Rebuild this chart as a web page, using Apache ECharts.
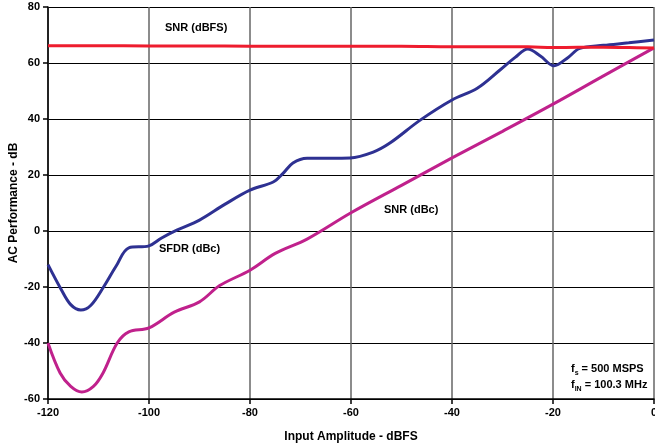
<!DOCTYPE html>
<html>
<head>
<meta charset="utf-8">
<script src="https://cdn.jsdelivr.net/npm/echarts@6/dist/echarts.min.js"></script>
<style>
  html, body { margin: 0; padding: 0; background: #fff; }
  #chart { width: 655px; height: 444px; }
</style>
</head>
<body>
<div id="chart"></div>
<script>
// Input amplitude (dBFS) sample points and measured AC performance (dB)
const snrDbfsX = [-120, -110, -100, -90, -80, -70, -60, -50, -40, -30, -25, -20, -15, -10, -5, 0];
const snrDbfsY = [66.2, 66.2, 66.1, 66.1, 66.0, 66.0, 66.0, 66.0, 65.8, 65.8, 65.8, 65.5, 65.6, 65.6, 65.5, 65.4];

const sfdrX = [-120, -117.5, -115.5, -113.5, -111.5, -109, -106.5, -104, -100, -97.5, -94.5, -90, -85, -80, -75.4, -73.5, -71.5, -68.7, -64, -60.2, -55.6, -52.3, -46.3, -40, -35, -30.5, -27.5, -25, -22.5, -19.8, -17, -14.7, -10, -5, 0];
const sfdrY = [-12, -20.5, -26.3, -28.2, -26.5, -20, -12.5, -6, -5.3, -2.5, 0.3, 3.9, 9.5, 14.6, 17.5, 20.5, 24.3, 26, 26, 26.1, 28.2, 31.4, 39.6, 46.8, 51, 57.5, 62, 65, 62.5, 59, 62, 65.2, 66.3, 67.2, 68.2];

const snrDbcX = [-120, -117.6, -115.5, -113.3, -111, -109.1, -106.3, -104, -100, -95, -90, -86, -80, -75, -68.7, -60, -50, -40, -30, -20, -10, 0];
const snrDbcY = [-40, -50.7, -55.5, -57.5, -55.5, -50.7, -40, -36, -34.6, -29, -25.3, -19.5, -14, -8, -2.9, 6.5, 16.3, 26.1, 35.6, 45.3, 55.4, 65.4];

const xTicks = { min: -120, max: 0, interval: 20 };
const yTicks = { min: -60, max: 80, interval: 20 };

const pairs = (xs, ys) => xs.map((x, i) => [x, ys[i]]);

const font = 'Liberation Sans, Arial, sans-serif';
const chart = echarts.init(document.getElementById('chart'), null, { renderer: 'canvas' });

chart.setOption({
  animation: false,
  backgroundColor: '#ffffff',
  grid: { left: 48, top: 7, width: 606, height: 392, containLabel: false, outerBoundsMode: 'none' },
  xAxis: {
    type: 'value',
    min: xTicks.min, max: xTicks.max, interval: xTicks.interval,
    axisLine: { onZero: false, lineStyle: { color: '#000', width: 1.5 } },
    axisTick: { show: true, length: 5, lineStyle: { color: '#000', width: 1.5 } },
    axisLabel: { fontFamily: font, fontWeight: 'bold', fontSize: 11, color: '#000', margin: 8, hideOverlap: false },
    splitLine: { show: true, lineStyle: { color: '#666', width: 1.5 } }
  },
  yAxis: {
    type: 'value',
    min: yTicks.min, max: yTicks.max, interval: yTicks.interval,
    axisLine: { onZero: false, lineStyle: { color: '#000', width: 1.5 } },
    axisTick: { show: true, length: 5, lineStyle: { color: '#000', width: 1.5 } },
    axisLabel: { fontFamily: font, fontWeight: 'bold', fontSize: 11, color: '#000', margin: 8, hideOverlap: false },
    splitLine: { show: true, lineStyle: { color: '#000', width: 1 } }
  },
  series: [
    {
      name: 'SNR (dBc)', type: 'line', smooth: 0.35, symbol: 'none',
      data: pairs(snrDbcX, snrDbcY),
      lineStyle: { color: '#c0218c', width: 3 }
    },
    {
      name: 'SFDR (dBc)', type: 'line', smooth: 0.35, symbol: 'none',
      data: pairs(sfdrX, sfdrY),
      lineStyle: { color: '#2e3192', width: 3 }
    },
    {
      name: 'SNR (dBFS)', type: 'line', smooth: 0.4, symbol: 'none',
      data: pairs(snrDbfsX, snrDbfsY),
      lineStyle: { color: '#ee1c2e', width: 3 }
    }
  ],
  graphic: [
    // axis titles
    {
      type: 'text', x: 351, y: 437,
      style: { text: 'Input Amplitude - dBFS', font: 'bold 12px ' + font, fill: '#000', align: 'center', verticalAlign: 'middle' }
    },
    {
      type: 'text', x: 14, y: 203, rotation: Math.PI / 2,
      style: { text: 'AC Performance - dB', font: 'bold 12px ' + font, fill: '#000', align: 'center', verticalAlign: 'middle' }
    },
    // curve labels
    { type: 'text', left: 165, top: 22, style: { text: 'SNR (dBFS)', font: 'bold 11px ' + font, fill: '#000' } },
    { type: 'text', left: 159, top: 243, style: { text: 'SFDR (dBc)', font: 'bold 11px ' + font, fill: '#000' } },
    { type: 'text', left: 384, top: 204, style: { text: 'SNR (dBc)', font: 'bold 11px ' + font, fill: '#000' } },
    {
      type: 'text', left: 571, top: 361,
      style: {
        text: '{m|f}{s|s}{m| = 500 MSPS}\n{m|f}{s|IN}{m| = 100.3 MHz}',
        lineHeight: 16,
        rich: {
          m: { font: 'bold 11px ' + font, fill: '#000', lineHeight: 16 },
          s: { font: 'bold 7px ' + font, fill: '#000', lineHeight: 16, verticalAlign: 'bottom', padding: [4, 0, 0, 0] }
        }
      }
    }
  ]
});
</script>
</body>
</html>
